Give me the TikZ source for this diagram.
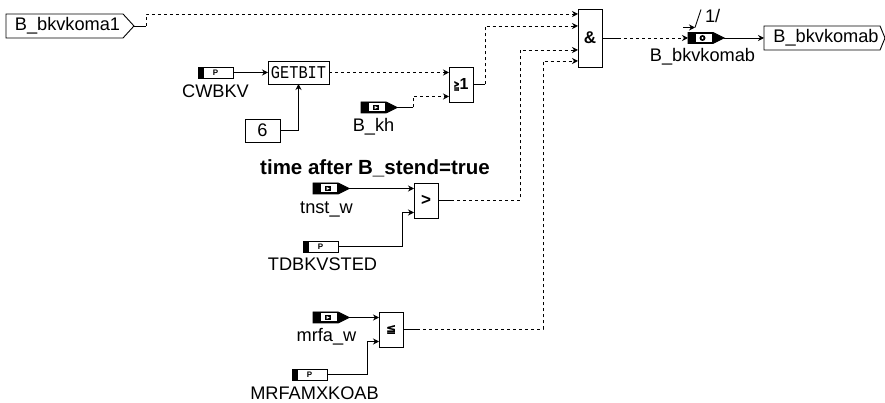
\documentclass[tikz,border=0pt]{standalone}
\usepackage{fontspec}
\setmainfont{Liberation Sans}
\newfontfamily\bitfont[FakeStretch=0.85]{Liberation Mono}
\newfontfamily\opfont[FakeBold=0.5]{DejaVu Sans}
\newfontfamily\opnarrow[FakeBold=1,FakeStretch=0.55]{DejaVu Sans}
\usetikzlibrary{positioning, arrows.meta, shapes.symbols}

\begin{document}
\begin{tikzpicture}[->, >={Stealth[length=6pt,width=6pt]}, line width=0.9pt,
    sigline/.style={dashed, dash pattern=on 3pt off 3pt},
    txt/.style={font=\fontsize{18.2pt}{19pt}\selectfont, inner sep=0pt, outer sep=0pt, text height=13pt, text depth=3.6pt},
    gate/.style={rectangle, draw, minimum width=24pt, minimum height=35pt, inner sep=0pt, outer sep=0pt, font=\fontsize{17pt}{18pt}\selectfont\bfseries},
    valbox/.style={rectangle, draw, minimum width=35pt, minimum height=23pt, inner sep=0pt, outer sep=0pt, font=\fontsize{18.2pt}{19pt}\selectfont},
    parblock/.style={rectangle, draw, minimum width=35pt, minimum height=11pt, inner sep=0pt, outer sep=0pt, font=\fontsize{8pt}{8pt}\selectfont\bfseries,
        path picture={\fill ([xshift=6pt]path picture bounding box.north west) rectangle (path picture bounding box.south west);}},
    sigblock/.style={signal, signal to=east, signal from=nowhere, signal pointer angle=53, draw, fill=black, minimum width=36pt, minimum height=11pt, inner sep=0pt, outer sep=0pt},
    varblock/.style={sigblock, path picture={
        \fill[white] ([xshift=8pt,yshift=1.5pt]path picture bounding box.south west) rectangle ([xshift=24pt,yshift=-1.5pt]path picture bounding box.north west);
        \fill ([xshift=12pt,yshift=-2.5pt]path picture bounding box.west) rectangle ([xshift=18pt,yshift=2.5pt]path picture bounding box.west);
        \fill[white] ([xshift=13.5pt,yshift=-1.5pt]path picture bounding box.west) -- ([xshift=16.5pt]path picture bounding box.west) -- ([xshift=13.5pt,yshift=1.5pt]path picture bounding box.west) -- cycle;}},
    bitblock/.style={sigblock, path picture={
        \fill[white] ([xshift=8pt,yshift=1.5pt]path picture bounding box.south west) rectangle ([xshift=24pt,yshift=-1.5pt]path picture bounding box.north west);
        \fill ([xshift=14.5pt]path picture bounding box.west) circle (3pt);
        \fill[white] ([xshift=14.5pt]path picture bounding box.west) circle (1.2pt);}}
    ]
    \useasboundingbox (0pt,0pt) rectangle (885pt,403pt);

    \node[gate, minimum height=58pt] (andgate) at (590pt,365pt) {\&};
    \node[gate] (orgate) [below left=0pt and 105pt of andgate] {{\opnarrow\fontsize{13pt}{13pt}\selectfont ≧}\fontsize{16pt}{16pt}\selectfont 1};
    \node[gate] (gtgate) [below left=81pt and 11pt of orgate] {>};
    \node[gate] (legate) [below left=94pt and 11pt of gtgate] {\opfont\fontsize{12pt}{12pt}\selectfont ≦};

    \node[valbox, minimum width=61pt] (getbit) [above left=-17pt and 120pt of orgate] {\bitfont\fontsize{18pt}{18pt}\selectfont GETBIT};
    \node[parblock] (cwbkv) [left=35pt of getbit] {P};
    \node[txt] (cwbkvtxt) [below=6.5pt of cwbkv] {CWBKV};
    \node[valbox] (six) [below=35pt of getbit, xshift=-36pt] {6};

    \node[varblock] (bkh) [below left=0pt and 63pt of orgate] {};
    \node[txt] (bkhtxt) [below=6pt of bkh] {B\_kh};

    \node[varblock] (tnst) [above left=-11pt and 76pt of gtgate] {};
    \node[txt] (tnsttxt) [below=6.5pt of tnst, xshift=1pt] {tnst\_w};
    \node[txt, font=\fontsize{20.5pt}{21pt}\selectfont\bfseries] (timetxt) [above=5pt of gtgate, xshift=-51pt] {time after B\_stend=true};
    \node[parblock] (tdbkv) [below left=23pt and 76pt of gtgate] {P};
    \node[txt] (tdbkvtxt) [below=6pt of tdbkv, xshift=2pt] {TDBKVSTED};

    \node[varblock] (mrfa) [above left=-11pt and 41pt of legate] {};
    \node[txt] (mrfatxt) [below=6pt of mrfa, xshift=1pt] {mrfa\_w};
    \node[parblock] (mrfamx) [below left=22pt and 52pt of legate] {P};
    \node[txt] (mrfamxtxt) [below=6.5pt of mrfamx, xshift=5pt] {MRFAMXKOAB};

    \node[txt, signal, signal to=east, signal from=nowhere, signal pointer angle=95, draw, minimum width=128pt, minimum height=24pt] (koma) [above left=29pt and 75pt of cwbkv] {\hspace*{6pt}B\_bkvkoma1};

    \node[bitblock] (komab) [right=86pt of andgate] {};
    \node[txt] (komabtxt) [below=5pt of komab, xshift=2pt] {B\_bkvkomab};
    \node[txt, signal, signal to=east, signal from=nowhere, signal pointer angle=135, draw, minimum width=121pt, minimum height=24pt] (komabout) [right=40pt of komab] {\hspace*{8pt}B\_bkvkomab};

    \coordinate (tickin) at ([xshift=-5pt,yshift=5pt]komab.north west);
    \coordinate (tickend) at ([xshift=7pt,yshift=5pt]komab.north west);
    \coordinate (tickup) at ([xshift=13pt,yshift=23pt]komab.north west);
    \node[txt] (bits) [right=4pt of tickup, yshift=-8pt] {1/};
    \draw (tickin) -- (tickend);
    \draw[-] (tickend) -- (tickup);

    % inputs of the gates
    \coordinate (andin1) at ([yshift=24pt]andgate.west);
    \coordinate (andin2) at ([yshift=12pt]andgate.west);
    \coordinate (andin3) at ([yshift=-12pt]andgate.west);
    \coordinate (andin4) at ([yshift=-23pt]andgate.west);
    \coordinate (orin1) at ([yshift=12pt]orgate.west);
    \coordinate (orin2) at ([yshift=-12pt]orgate.west);
    \coordinate (gtin1) at ([yshift=12pt]gtgate.west);
    \coordinate (gtin2) at ([yshift=-12pt]gtgate.west);
    \coordinate (lein1) at ([yshift=12pt]legate.west);
    \coordinate (lein2) at ([yshift=-12pt]legate.west);

    % connections
    \draw[-] (koma.east) -- ++(12pt,0) coordinate (komabend);
    \draw[sigline] (komabend) |- (andin1);
    \draw (cwbkv) -- (getbit);
    \draw (six.east) -| (getbit.south);
    \draw[sigline] (getbit) -- (orin1);
    \draw[-] (bkh.east) -- ++(16pt,0) coordinate (bkhbend);
    \draw[sigline] (bkhbend) |- (orin2);
    \draw[-] (orgate.east) -- ++(12pt,0) coordinate (orbend);
    \draw[sigline] (orbend) |- (andin2);
    \draw (tnst.east) -- (gtin1);
    \draw (tdbkv.east) -| ([xshift=-12pt]gtin2) -- (gtin2);
    \draw[-] (gtgate.east) -- ++(13pt,0) coordinate (gtstub);
    \draw[sigline] (gtstub) -| ([xshift=-58pt]andin3) -- (andin3);
    \draw (mrfa.east) -- (lein1);
    \draw (mrfamx.east) -| ([xshift=-12pt]lein2) -- (lein2);
    \draw[-] (legate.east) -- ++(14pt,0) coordinate (lestub);
    \draw[sigline] (lestub) -| ([xshift=-35pt]andin4) -- (andin4);
    \draw[-] (andgate.east) -- ++(16pt,0) coordinate (andstub);
    \draw[sigline] (andstub) -- (komab.west);
    \draw (komab.east) -- (komabout.west);
\end{tikzpicture}
\end{document}
